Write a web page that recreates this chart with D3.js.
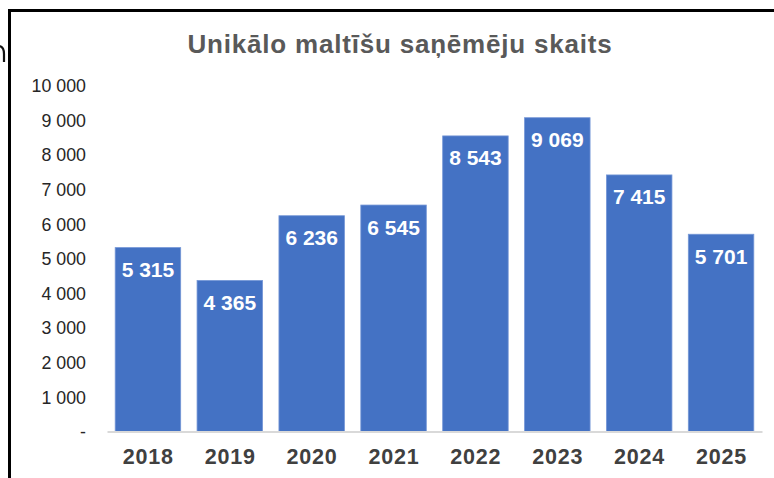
<!DOCTYPE html>
<html>
<head>
<meta charset="utf-8">
<script src="https://cdn.jsdelivr.net/npm/d3@7"></script>
<style>
  html, body { margin: 0; padding: 0; background: #fff; }
  svg { display: block; }
</style>
</head>
<body>
<svg id="chart" width="774" height="478"></svg>
<script>
const titleText = "Unikālo maltīšu saņēmēju skaits";
const years = ["2018", "2019", "2020", "2021", "2022", "2023", "2024", "2025"];
const recipients = [5315, 4365, 6236, 6545, 8543, 9069, 7415, 5701];
const yTicks = [0, 1000, 2000, 3000, 4000, 5000, 6000, 7000, 8000, 9000, 10000];

const svg = d3.select("#chart");
const W = 774, H = 478;
const fontFam = "'Liberation Sans', Arial, sans-serif";

// Frame (partial border from screenshot)
svg.append("line").attr("x1", 9.5).attr("x2", 9.5).attr("y1", 9).attr("y2", H)
  .attr("stroke", "#000").attr("stroke-width", 3);
svg.append("line").attr("x1", 8).attr("x2", W).attr("y1", 10.5).attr("y2", 10.5)
  .attr("stroke", "#000").attr("stroke-width", 3);
// clipped glyph fragment at the far left edge (decoration)
svg.append("path").attr("d", "M0,46 C3,47 4,50 4,54 L4,62")
  .attr("fill", "none").attr("stroke", "#111").attr("stroke-width", 2.2);

const x = d3.scaleBand().domain(years).range([107, 762]).paddingInner(0.2).paddingOuter(0.1);
const y = d3.scaleLinear().domain([0, 10000]).range([431.5, 85.5]);

// Title
svg.append("text").attr("x", 400).attr("y", 53).attr("text-anchor", "middle")
  .attr("font-family", fontFam).attr("font-weight", "bold").attr("font-size", 26)
  .attr("letter-spacing", 0.8)
  .attr("fill", "#595959").text(titleText);

const fmt = v => v === 0 ? "-" : d3.format(",")(v).replace(/,/g, " ");

// Y axis (labels only)
const yAxis = d3.axisLeft(y).tickValues(yTicks).tickSize(0).tickPadding(0).tickFormat(fmt);
const gy = svg.append("g").attr("transform", "translate(86,0)").call(yAxis);
gy.select(".domain").remove();
gy.selectAll("text").attr("font-family", fontFam).attr("font-size", 17.8)
  .attr("fill", "#262626").attr("dy", "0.35em");

// Bars
svg.append("g").selectAll("rect").data(years).join("rect")
  .attr("x", d => x(d))
  .attr("width", x.bandwidth())
  .attr("y", (d, i) => y(recipients[i]))
  .attr("height", (d, i) => y(0) - y(recipients[i]))
  .attr("fill", "#4472C4")
  .attr("stroke", "#7496d6").attr("stroke-width", 0.8);

// X axis
const xAxis = d3.axisBottom(x).tickSize(0).tickPadding(0);
const gx = svg.append("g").attr("transform", `translate(0,${y(0)})`).call(xAxis);
gx.select(".domain").attr("stroke", "#d9d9d9").attr("stroke-width", 2);
gx.selectAll("text").attr("font-family", fontFam).attr("font-weight", "bold")
  .attr("font-size", 21.5).attr("letter-spacing", 0.8).attr("dx", 0.4)
  .attr("fill", "#404040").attr("dy", 0).attr("y", 32);

// Value labels
svg.append("g").selectAll("text").data(years).join("text")
  .attr("x", d => x(d) + x.bandwidth() / 2)
  .attr("y", (d, i) => y(recipients[i]) + 29.5)
  .attr("text-anchor", "middle")
  .attr("font-family", fontFam).attr("font-weight", "bold").attr("font-size", 21)
  .attr("fill", "#fff")
  .text((d, i) => fmt(recipients[i]));
</script>
</body>
</html>
